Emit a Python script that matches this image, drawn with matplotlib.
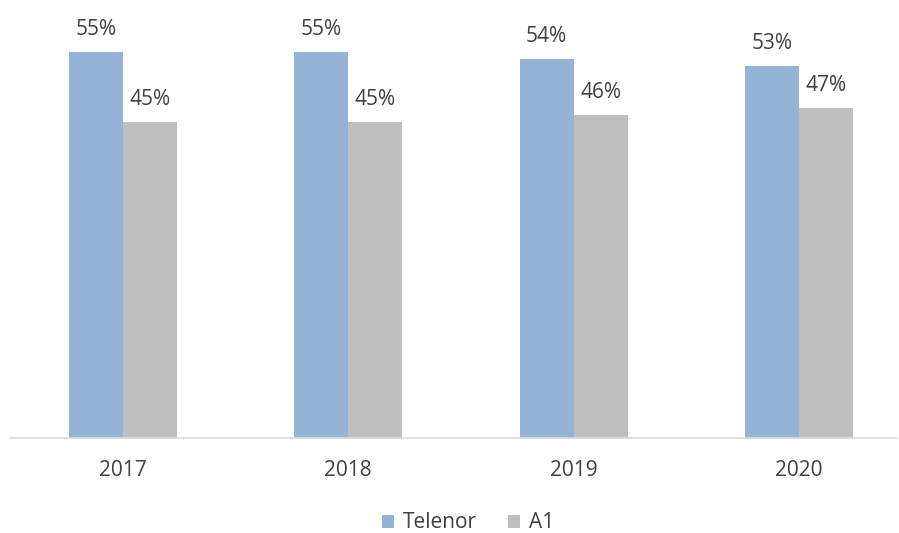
import matplotlib
matplotlib.use("Agg")
import matplotlib.pyplot as plt
import numpy as np

plt.rcParams['font.family'] = ['Open Sans', 'DejaVu Sans']

years = ['2017', '2018', '2019', '2020']
telenor = [55, 55, 54, 53]
a1 = [45, 45, 46, 47]

blue = '#95B3D7'
grey = '#BFBFBF'
text_col = '#404040'

fig = plt.figure(figsize=(8.99, 5.33), dpi=100)
# axes placed in pixels: left 10, right 897, baseline 438, top 17
ax = fig.add_axes([10 / 899, (533 - 438) / 533, 887 / 899, 421 / 533])

x = np.arange(len(years))
w = 0.24
b1 = ax.bar(x - w / 2, telenor, w, color=blue, label='Telenor')
b2 = ax.bar(x + w / 2, a1, w, color=grey, label='A1')

for bars, vals in ((b1, telenor), (b2, a1)):
    for r, v in zip(bars, vals):
        ax.annotate(f'{v}%', (r.get_x() + r.get_width() / 2, v),
                    xytext=(0, 9), textcoords='offset points',
                    ha='center', va='bottom', fontsize=15, color=text_col)

ax.set_ylim(0, 60)
ax.set_xlim(-0.5016, (897 - 123) / 225.3)
ax.set_yticks([])
ax.set_xticks(x)
ax.set_xticklabels(years, fontsize=15, color=text_col)
ax.tick_params(axis='x', length=0, pad=16)
for s in ('top', 'right', 'left'):
    ax.spines[s].set_visible(False)
ax.spines['bottom'].set_color('#D9D9D9')
ax.spines['bottom'].set_linewidth(1.2)

fig.legend(loc='center', bbox_to_anchor=(468 / 899, 1 - 523 / 533), ncol=2,
           frameon=False, fontsize=15, handlelength=0.6, handleheight=0.6,
           columnspacing=1.5, handletextpad=0.4, labelcolor=text_col)

fig.savefig('out.png', dpi=100)
